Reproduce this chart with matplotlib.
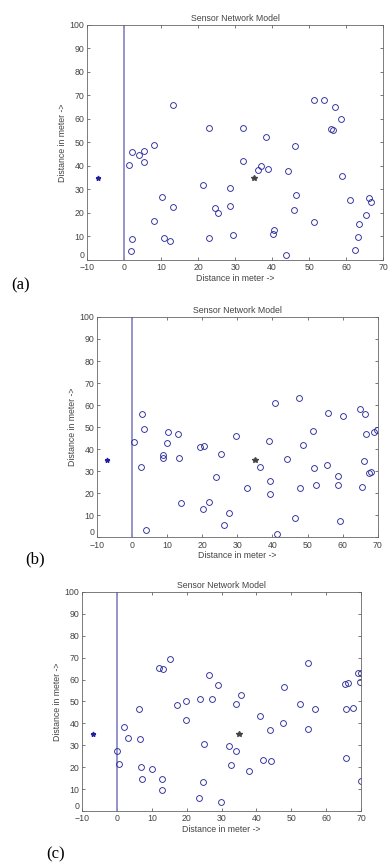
import matplotlib
matplotlib.use("Agg")
import matplotlib.pyplot as plt

plt.rcParams["font.family"] = ["Liberation Sans", "DejaVu Sans"]

# node positions
xa = [1.9, 2.1, 1.3, 2.0, 4.0, 5.3, 5.3, 8.0, 8.0, 10.1, 10.8, 12.3, 13.2, 13.2,
      21.3, 22.8, 22.9, 24.5, 25.4, 28.5, 28.7, 29.3, 32.0, 32.2, 36.1, 37.0,
      38.3, 38.9, 40.2, 40.4, 43.8, 44.4, 46.2, 45.9, 46.4, 51.3, 51.3, 53.9,
      56.0, 56.5, 56.9, 58.5, 58.9, 61.1, 62.4, 63.1, 63.5, 65.4, 66.3, 66.8]
ya = [4.0, 8.8, 40.6, 46.0, 44.5, 46.2, 41.7, 49.0, 16.5, 26.7, 9.4, 8.2, 22.6, 66.0,
      31.9, 56.0, 9.4, 22.3, 19.9, 30.8, 22.8, 10.5, 42.0, 56.2, 38.4, 39.9,
      52.5, 38.7, 10.9, 12.9, 2.1, 37.9, 48.4, 21.1, 27.7, 67.9, 16.2, 67.9,
      55.7, 55.5, 65.1, 60.1, 35.7, 25.5, 4.4, 9.6, 15.3, 19.1, 26.4, 24.5]

xb = [0.6, 2.9, 3.3, 2.5, 4.1, 8.8, 8.7, 10.2, 10.0, 13.2, 13.4, 14.0, 19.3, 20.5,
      20.1, 22.0, 24.0, 25.5, 26.3, 27.5, 29.5, 32.9, 36.5, 39.0, 39.4, 39.3,
      40.8, 41.2, 44.1, 46.4, 47.5, 47.9, 48.7, 51.7, 51.9, 52.3, 55.5, 55.7,
      58.7, 58.8, 59.2, 60.2, 65.0, 65.6, 66.2, 66.4, 66.6, 67.4, 68.0, 68.8, 69.7]
yb = [43.2, 55.9, 49.0, 31.8, 3.2, 37.3, 36.1, 47.6, 42.6, 46.7, 35.9, 15.5, 41.1, 41.4,
      12.7, 16.1, 27.1, 37.9, 5.6, 10.9, 46.1, 22.1, 31.8, 43.8, 25.6, 19.4,
      60.9, 1.4, 35.5, 8.6, 63.2, 22.4, 41.7, 48.0, 31.2, 23.5, 32.9, 56.2,
      27.6, 23.6, 7.3, 55.2, 58.0, 22.6, 34.5, 55.8, 47.0, 29.1, 29.7, 47.9, 48.5]

xc = [0.1, 0.7, 2.1, 3.1, 6.4, 6.5, 7.0, 7.3, 10.0, 12.2, 13.2, 12.9, 12.9, 15.1,
      17.3, 19.9, 19.9, 23.6, 23.8, 24.6, 25.0, 26.5, 27.4, 29.0, 29.8, 32.1,
      32.7, 34.1, 34.2, 35.7, 37.9, 41.0, 41.9, 44.0, 44.2, 47.6, 48.0, 52.5,
      54.9, 54.9, 56.7, 65.4, 66.2, 65.6, 65.8, 67.6, 69.1, 70.1, 69.8, 70.1]
yc = [27.2, 21.5, 38.2, 33.3, 46.7, 33.0, 20.0, 14.8, 19.2, 65.3, 65.0, 14.8, 9.5, 69.2,
      48.4, 50.2, 41.4, 5.8, 51.3, 13.3, 30.5, 62.0, 51.3, 57.3, 4.0, 29.5,
      20.9, 49.0, 27.5, 53.1, 18.3, 43.5, 23.5, 37.1, 22.6, 40.0, 56.6, 48.7,
      37.3, 67.5, 46.7, 58.0, 58.3, 24.3, 46.7, 47.2, 63.2, 63.2, 58.8, 13.6]

base = (-7, 35)
sink = (35, 35)
panels = [("(a)", xa, ya), ("(b)", xb, yb), ("(c)", xc, yc)]

boxes = [[0.224, 0.7005, 0.761, 0.2707],
         [0.249, 0.3813, 0.722, 0.2535],
         [0.211, 0.0657, 0.717, 0.2523]]
label_pos = [(0.052, 0.671), (0.090, 0.355), (0.142, 0.016)]

fig = plt.figure(figsize=(3.89, 8.68), dpi=100)
tc = "#444444"
for (tag, xs, ys), box, lp in zip(panels, boxes, label_pos):
    ax = fig.add_axes(box)
    ax.plot([0, 0], [0, 100], color="#8c8cc8", lw=1.3)
    ax.plot(xs, ys, "o", mfc="none", mec="#2b2b9a", ms=4.2, mew=0.65)
    ax.plot(*base, "*", color="#2020a0", ms=3.5)
    ax.plot(*sink, "*", color="#444444", ms=4)
    ax.set_xlim(-10, 70)
    ax.set_ylim(0, 100)
    ax.set_xticks(range(-10, 71, 10))
    ax.set_yticks(range(0, 101, 10))
    ax.tick_params(direction="in", length=2, width=0.5, top=True, right=True,
                   labelsize=6.3, colors=tc)
    ax.tick_params(axis="x", pad=2.5)
    ax.tick_params(axis="y", pad=2)
    # matlab puts the lowest y label just above the corner
    ax.get_yticklabels()[0].set_va("bottom")
    for s in ax.spines.values():
        s.set_color("#666666")
        s.set_linewidth(0.6)
    ax.set_title("Sensor Network Model", fontsize=6.3, color=tc, pad=3)
    ax.set_xlabel("Distance in meter ->", fontsize=6.3, color=tc, labelpad=1)
    ax.set_ylabel("Distance in meter ->", fontsize=6.3, color=tc, labelpad=2)
    fig.text(lp[0], lp[1], tag, fontsize=12, family="Liberation Serif",
             ha="center", va="center")

fig.savefig("out.png", dpi=100)
